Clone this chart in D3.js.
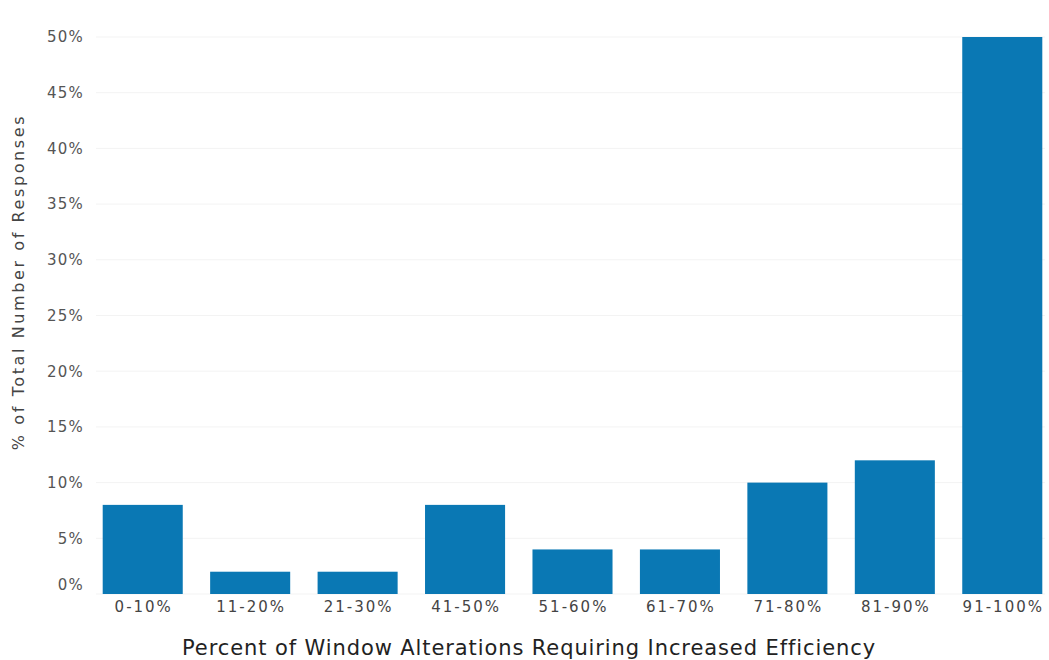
<!DOCTYPE html>
<html><head><meta charset="utf-8">
<script src="https://cdn.jsdelivr.net/npm/d3@7"></script>
<style>body{margin:0;background:#fff}svg{display:block}text{font-family:"DejaVu Sans",sans-serif}</style>
</head><body><svg id="c" width="1049" height="660"></svg>
<script>
const categories = ["0-10%","11-20%","21-30%","41-50%","51-60%","61-70%","71-80%","81-90%","91-100%"];
const values = [8,2,2,8,4,4,10,12,50];
const yTicks = [0,5,10,15,20,25,30,35,40,45,50];
const xTitle = "Percent of Window Alterations Requiring Increased Efficiency";
const yTitle = "% of Total Number of Responses";

const svg = d3.select("#c");
const x = d3.scaleBand().domain(categories).range([89, 1056]).paddingInner(0.255).paddingOuter(0.1275);
const y = d3.scaleLinear().domain([0,50]).range([594, 37]);

svg.append("g").selectAll("line").data(yTicks).join("line")
  .attr("x1", 96).attr("x2", 1045)
  .attr("y1", d=>y(d)).attr("y2", d=>y(d))
  .attr("stroke", "#f3f3f3").attr("stroke-width", 1);

const ya = svg.append("g").attr("transform","translate(84,0)")
  .call(d3.axisLeft(y).tickValues(yTicks).tickFormat(d=>d+"%").tickSize(0).tickPadding(0));
ya.select(".domain").remove();
ya.selectAll("text").attr("fill","#555").attr("font-size",15).attr("letter-spacing","1.2px")
  .attr("dy", d => d===0 ? "-0.3em" : "0.32em");

svg.append("g").selectAll("rect").data(values).join("rect")
  .attr("x",(d,i)=>x(categories[i])).attr("width",x.bandwidth())
  .attr("y",d=>y(d)).attr("height",d=>y(0)-y(d))
  .attr("fill","#0a78b4");

const xa = svg.append("g").attr("transform","translate(1,597)")
  .call(d3.axisBottom(x).tickSize(0).tickPadding(4));
xa.select(".domain").remove();
xa.selectAll("text").attr("fill","#444").attr("font-size",15).attr("letter-spacing","2px");

svg.append("text").attr("x",529).attr("y",655).attr("text-anchor","middle")
  .attr("font-size",21).attr("fill","#222").attr("letter-spacing","0.9px").text(xTitle);
svg.append("text").attr("transform","translate(24,282) rotate(-90)").attr("text-anchor","middle")
  .attr("font-size",16).attr("fill","#444").attr("letter-spacing","2.6px").text(yTitle);
</script></body></html>
